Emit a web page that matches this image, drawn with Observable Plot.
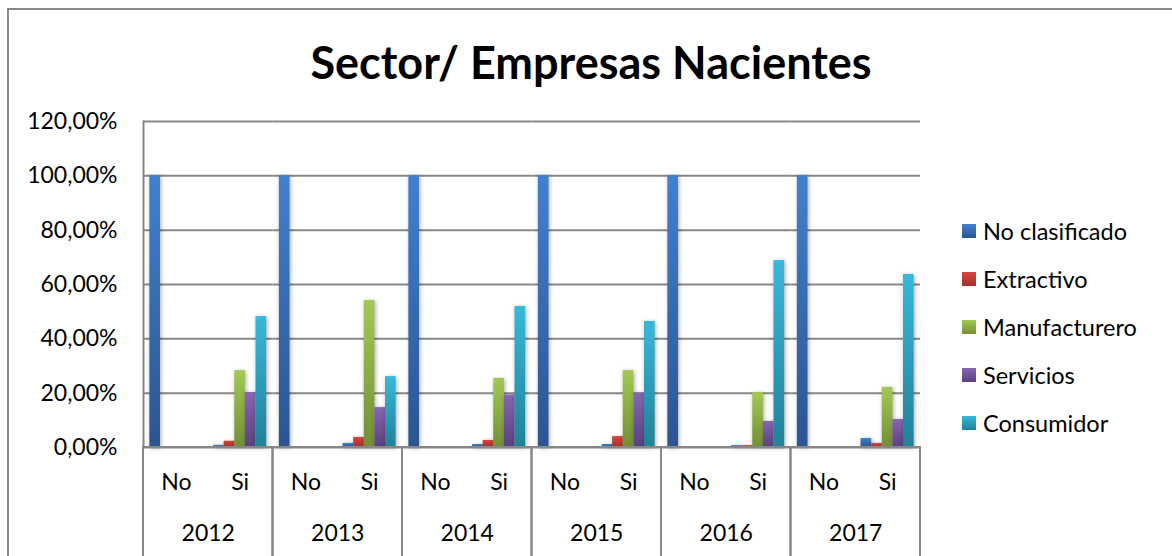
<!DOCTYPE html>
<html>
<head>
<meta charset="utf-8">
<script src="https://cdn.jsdelivr.net/npm/d3@7"></script>
<script src="https://cdn.jsdelivr.net/npm/@observablehq/plot@0.6"></script>
<style>
  html, body { margin: 0; padding: 0; background: #fff; }
  #wrap { position: relative; width: 1172px; height: 556px; overflow: hidden; font-family: Lato, "Noto Sans", sans-serif; }
  #border { position: absolute; left: 7px; top: 8px; width: 1200px; height: 600px; border-left: 2px solid #8a8a8a; border-top: 2px solid #8a8a8a; }
  #title { position: absolute; left: 591px; top: 40px; transform: translateX(-50%); font-weight: 700; font-size: 45px; white-space: nowrap; color: #000; line-height: 1; }
  #legend { position: absolute; left: 962px; top: 0; }
  .li { position: absolute; left: 0; display: flex; align-items: center; white-space: nowrap; font-size: 23.5px; color: #000; transform: translateY(-50%); }
  .sw { width: 14px; height: 14px; margin-right: 7px; }
  #chart { position: absolute; left: 0; top: 0; }
  g[aria-label="bar"] rect { filter: drop-shadow(1px 1px 2px rgba(0,0,0,0.35)); }
</style>
</head>
<body>
<div id="wrap">
  <svg width="0" height="0" style="position:absolute">
    <defs id="defs"></defs>
  </svg>
  <div id="border"></div>
  <div id="chart"></div>
  <div id="title">Sector/ Empresas Nacientes</div>
  <div id="legend"></div>
</div>
<script>
// ---- data ----
const years = ["2012", "2013", "2014", "2015", "2016", "2017"];
const subs = ["No", "Si"];
const series = ["No clasificado", "Extractivo", "Manufacturero", "Servicios", "Consumidor"];
// values (%) per year: [No, Si]
const noClasificado = [100, 0.8, 100, 1.5, 100, 1.1, 100, 1.1, 100, 0.7, 100, 3.3];
const extractivo    = [0, 2.3, 0, 3.7, 0, 2.6, 0, 4.0, 0, 0.7, 0, 1.5];
const manufacturero = [0, 28.3, 0, 54.1, 0, 25.4, 0, 28.3, 0, 20.2, 0, 22.1];
const servicios     = [0, 20.2, 0, 14.7, 0, 19.3, 0, 20.0, 0, 9.6, 0, 10.3];
const consumidor    = [0, 48.2, 0, 26.1, 0, 51.9, 0, 46.4, 0, 68.8, 0, 63.7];
const yTicks = [0, 20, 40, 60, 80, 100, 120];

const seriesValues = [noClasificado, extractivo, manufacturero, servicios, consumidor];
const gradTop = ["#4180cf", "#d8443f", "#a3c953", "#8866b3", "#38b8da"];
const gradBot = ["#2b5591", "#a52f2b", "#728f34", "#5b4080", "#1f8298"];

// gradients
const defs = document.getElementById("defs");
series.forEach((s, k) => {
  defs.insertAdjacentHTML("beforeend",
    `<linearGradient id="g${k}" x1="0" y1="0" x2="0" y2="1">
       <stop offset="0" stop-color="${gradTop[k]}"/>
       <stop offset="1" stop-color="${gradBot[k]}"/>
     </linearGradient>`);
});
const fills = series.map((s, k) => `url(#g${k})`);

const table = [];
years.forEach((yr, i) => subs.forEach((sb, j) => series.forEach((name, k) => {
  table.push({year: yr, sub: sb, series: name, key: sb + "·" + name, value: seriesValues[k][i * 2 + j]});
})));
const xDomain = [...series.map(n => "No·" + n), "gap", ...series.map(n => "Si·" + n)];
const subLabels = years.flatMap(yr => subs.map(sb => ({year: yr, sub: sb, key: sb + "·" + series[2]})));

const grid = "#878787";
const fmt = d => d.toFixed(2).replace(".", ",") + "%";

const plot = Plot.plot({
  width: 1172,
  height: 556,
  marginLeft: 143,
  marginRight: 252,
  marginTop: 121,
  marginBottom: 109,
  style: {fontFamily: "Lato, 'Noto Sans', sans-serif", fontSize: "23px", color: "#000", background: "transparent", overflow: "visible"},
  fx: {domain: years, padding: 0, round: false, axis: null},
  x: {domain: xDomain, paddingInner: 0, paddingOuter: 0.6, round: false, axis: null},
  y: {domain: [0, 120], axis: null},
  color: {domain: series, range: fills},
  marks: [
    Plot.gridY(yTicks.slice(1), {stroke: grid, strokeWidth: 2, strokeOpacity: 1}),
    Plot.barY(table, {fx: "year", x: "key", y: "value", fill: "series"}),
    Plot.ruleY([0], {stroke: grid, strokeWidth: 2}),
    Plot.frame({anchor: "left", facetAnchor: "left", stroke: grid, strokeWidth: 2}),
    Plot.rect(years, {fx: d => d, y1: 0, y2: 0, insetBottom: -112, stroke: grid, strokeWidth: 2, fill: "none"}),
    Plot.axisY(yTicks, {label: null, tickSize: 0, tickPadding: 26, tickFormat: fmt, fontSize: 23}),
    Plot.text(subLabels, {fx: "year", x: "key", text: "sub", frameAnchor: "bottom", dy: 35, lineAnchor: "middle", fontSize: 23}),
    Plot.text(years, {fx: d => d, x: () => "gap", text: d => d, frameAnchor: "bottom", dy: 86, lineAnchor: "middle", fontSize: 23})
  ]
});
document.getElementById("chart").appendChild(plot);

// legend
const legend = document.getElementById("legend");
const rowY = [231, 279, 327, 375, 423];
series.forEach((s, k) => {
  const d = document.createElement("div");
  d.className = "li";
  d.style.top = rowY[k] + "px";
  d.innerHTML = `<svg class="sw" width="14" height="14"><rect width="14" height="14" fill="${fills[k]}"/></svg><span>${s}</span>`;
  legend.appendChild(d);
});
</script>
</body>
</html>
